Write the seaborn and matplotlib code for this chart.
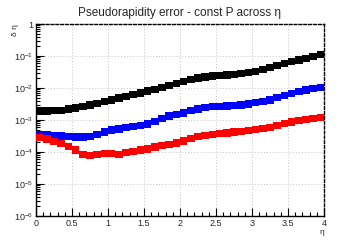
import numpy as np
import pandas as pd
import matplotlib
matplotlib.use("Agg")
import matplotlib.pyplot as plt
import seaborn as sns
from matplotlib.ticker import FixedLocator, LogLocator, MultipleLocator, NullFormatter

# eta bin centres
eta = [0.05, 0.15, 0.25, 0.35, 0.45, 0.55, 0.65, 0.75, 0.85, 0.95,
       1.05, 1.15, 1.25, 1.35, 1.45, 1.55, 1.65, 1.75, 1.85, 1.95,
       2.05, 2.15, 2.25, 2.35, 2.45, 2.55, 2.65, 2.75, 2.85, 2.95,
       3.05, 3.15, 3.25, 3.35, 3.45, 3.55, 3.65, 3.75, 3.85, 3.95]

# delta eta
err_black = [1.91e-3, 1.91e-3, 1.95e-3, 2.0e-3, 2.19e-3, 2.40e-3, 2.63e-3, 2.95e-3, 3.31e-3, 3.80e-3,
             4.27e-3, 4.79e-3, 5.37e-3, 6.17e-3, 7.08e-3, 7.94e-3, 9.12e-3, 0.0105, 0.0120, 0.0138,
             0.0158, 0.0182, 0.0204, 0.0219, 0.0234, 0.0245, 0.0251, 0.0263, 0.0288, 0.0309,
             0.0331, 0.0372, 0.0437, 0.0501, 0.0589, 0.0661, 0.0741, 0.0851, 0.0955, 0.110]
err_blue = [3.55e-4, 3.55e-4, 3.31e-4, 3.16e-4, 3.02e-4, 2.95e-4, 2.95e-4, 3.09e-4, 3.55e-4, 4.17e-4,
            4.79e-4, 5.25e-4, 5.75e-4, 6.31e-4, 6.61e-4, 7.41e-4, 9.12e-4, 1.10e-3, 1.32e-3, 1.48e-3,
            1.66e-3, 1.95e-3, 2.19e-3, 2.45e-3, 2.63e-3, 2.69e-3, 2.75e-3, 2.82e-3, 2.95e-3, 3.16e-3,
            3.47e-3, 3.80e-3, 4.27e-3, 5.01e-3, 5.89e-3, 6.76e-3, 7.76e-3, 8.71e-3, 9.55e-3, 0.0105]
err_red = [2.82e-4, 2.51e-4, 2.14e-4, 1.82e-4, 1.48e-4, 1.15e-4, 8.51e-5, 7.76e-5, 8.32e-5, 8.91e-5,
           8.91e-5, 8.51e-5, 9.55e-5, 1.05e-4, 1.15e-4, 1.26e-4, 1.41e-4, 1.58e-4, 1.74e-4, 1.91e-4,
           2.19e-4, 2.63e-4, 3.02e-4, 3.24e-4, 3.55e-4, 3.80e-4, 3.98e-4, 4.17e-4, 4.37e-4, 4.68e-4,
           5.01e-4, 5.37e-4, 5.89e-4, 6.76e-4, 7.76e-4, 8.71e-4, 9.55e-4, 1.05e-3, 1.12e-3, 1.20e-3]

series = ["black", "blue", "red"]
y_ticks = [1e-6, 1e-5, 1e-4, 1e-3, 1e-2, 1e-1, 1]
y_labels = ["10$^{-6}$", "10$^{-5}$", "10$^{-4}$", "10$^{-3}$", "10$^{-2}$", "10$^{-1}$", "1"]
x_ticks = [0, 0.5, 1, 1.5, 2, 2.5, 3, 3.5, 4]
x_labels = ["0", "0.5", "1", "1.5", "2", "2.5", "3", "3.5", "4"]

df = pd.DataFrame({
    "eta": eta * 3,
    "err": err_black + err_blue + err_red,
    "set": [s for s in series for _ in eta],
})

sns.set_style("white")
plt.rcParams["font.family"] = ["Liberation Sans", "DejaVu Sans"]
plt.rcParams["mathtext.default"] = "regular"

fig = plt.figure(figsize=(3.6, 2.4), dpi=100)
ax = fig.add_axes([0.1, 0.1, 0.8, 0.8])

sns.scatterplot(data=df, x="eta", y="err", hue="set", palette=series,
                marker="s", s=29, linewidth=0, legend=False, ax=ax, zorder=3)

ax.set_yscale("log")
ax.set_xlim(0, 4)
ax.set_ylim(1e-6, 1)

ax.yaxis.set_major_locator(FixedLocator(y_ticks))
ax.set_yticklabels(y_labels)
ax.yaxis.set_minor_locator(LogLocator(base=10, subs=np.arange(2, 10), numticks=20))
ax.yaxis.set_minor_formatter(NullFormatter())
ax.set_xticks(x_ticks)
ax.set_xticklabels(x_labels)
ax.xaxis.set_minor_locator(MultipleLocator(0.1))

ax.tick_params(which="both", direction="in", left=True, bottom=True, top=False, right=False,
               labelsize=6.5, pad=2, color="black")
ax.tick_params(which="major", length=6, width=0.8)
ax.tick_params(which="minor", length=3, width=0.8)

ax.grid(True, which="major", color="#c4c4c4", linestyle=(0, (1, 2)), linewidth=0.7)

for side in ["left", "bottom"]:
    ax.spines[side].set_color("black")
    ax.spines[side].set_linewidth(1.0)
for side in ["top", "right"]:
    ax.spines[side].set_color("black")
    ax.spines[side].set_linewidth(1.0)
    ax.spines[side].set_linestyle((0, (2, 1.5)))

ax.set_title("Pseudorapidity error - const P across η", fontsize=8.5, pad=6)
ax.set_xlabel("η", fontsize=6, loc="right", labelpad=1)
ax.set_ylabel("δ η", fontsize=6, loc="top")
ax.yaxis.set_label_coords(-0.06, 1.0)

fig.savefig("out.png", dpi=100)
